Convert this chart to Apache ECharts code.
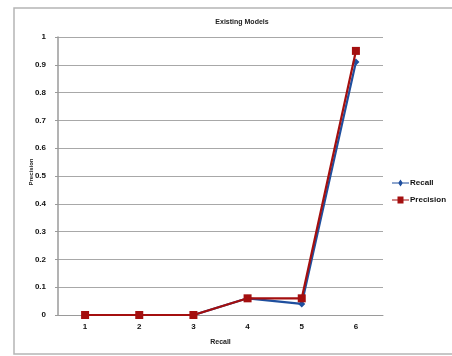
<!DOCTYPE html>
<html>
<head>
<meta charset="utf-8">
<style>
  html, body { margin: 0; padding: 0; background: #fff; }
  #chart { width: 452px; height: 356px; }
</style>
<script src="https://cdn.jsdelivr.net/npm/echarts@6/dist/echarts.min.js"></script>
</head>
<body>
<div id="chart"></div>
<script>
// Categories along the x axis
const categories = ['1', '2', '3', '4', '5', '6'];
// Series values
const recallValues = [0, 0, 0, 0.06, 0.04, 0.91];
const precisionValues = [0, 0, 0, 0.06, 0.06, 0.95];

const chart = echarts.init(document.getElementById('chart'), null, { renderer: 'canvas' });
const font = 'Liberation Sans, Arial, sans-serif';

chart.setOption({
  backgroundColor: '#ffffff',
  animation: false,
  graphic: [
    {
      type: 'rect',
      shape: { x: 14, y: 8, width: 460, height: 346 },
      style: { fill: 'none', stroke: '#b5b5b5', lineWidth: 1.5 },
      silent: true
    }
  ],
  title: {
    text: 'Existing Models',
    left: 237,
    top: 14,
    textAlign: 'center',
    textStyle: { fontFamily: font, fontSize: 7, fontWeight: 'bold', color: '#222' }
  },
  legend: {
    orient: 'vertical',
    left: 392,
    top: 179,
    padding: 0,
    itemWidth: 17,
    itemHeight: 7,
    itemGap: 9,
    textStyle: { fontFamily: font, fontSize: 8, fontWeight: 'bold', color: '#111', padding: [0, 0, 0, -4] },
    data: [
      { name: 'Recall', icon: 'path://M0,3 L6.5,3 L8.5,0 L10.5,3 L17,3 L17,4 L10.5,4 L8.5,7 L6.5,4 L0,4 Z' },
      { name: 'Precision', icon: 'path://M0,3 L5.5,3 L5.5,0 L11.5,0 L11.5,3 L17,3 L17,4 L11.5,4 L11.5,7 L5.5,7 L5.5,4 L0,4 Z' }
    ]
  },
  grid: { left: 58, right: 69, top: 37, bottom: 41, containLabel: false },
  xAxis: {
    type: 'category',
    data: categories,
    boundaryGap: true,
    name: 'Recall',
    nameLocation: 'middle',
    nameGap: 24,
    nameMoveOverlap: false,
    nameTextStyle: { fontFamily: font, fontSize: 7, fontWeight: 'bold', color: '#222' },
    axisLine: { show: true, lineStyle: { color: '#9a9a9a', width: 1 } },
    axisTick: { show: false },
    axisLabel: { fontFamily: font, fontSize: 8, fontWeight: 'bold', color: '#111', margin: 8 }
  },
  yAxis: {
    type: 'value',
    min: 0,
    max: 1,
    interval: 0.1,
    name: 'Precision',
    nameLocation: 'middle',
    nameGap: 24,
    nameMoveOverlap: false,
    nameRotate: 90,
    nameTextStyle: { fontFamily: font, fontSize: 6, fontWeight: 'bold', color: '#222', padding: [0, 0, 0, 8] },
    axisLine: { show: true, lineStyle: { color: '#9a9a9a', width: 1.5 } },
    axisTick: { show: true, length: 3, lineStyle: { color: '#9a9a9a' } },
    splitLine: { show: true, lineStyle: { color: '#a8a8a8', width: 1 } },
    axisLabel: {
      fontFamily: font, fontSize: 8, fontWeight: 'bold', color: '#111', margin: 12,
      formatter: function (v) { return String(Math.round(v * 10) / 10); }
    }
  },
  series: [
    {
      name: 'Recall',
      type: 'line',
      data: recallValues,
      symbol: 'diamond',
      symbolSize: 7,
      color: '#1f4f9e',
      lineStyle: { color: '#1f4f9e', width: 2.2 },
      itemStyle: { color: '#1f4f9e' },
      z: 2
    },
    {
      name: 'Precision',
      type: 'line',
      data: precisionValues,
      symbol: 'rect',
      symbolSize: 8,
      color: '#a40f0f',
      lineStyle: { color: '#a40f0f', width: 2.2 },
      itemStyle: { color: '#a40f0f' },
      z: 3
    }
  ]
});
</script>
</body>
</html>
